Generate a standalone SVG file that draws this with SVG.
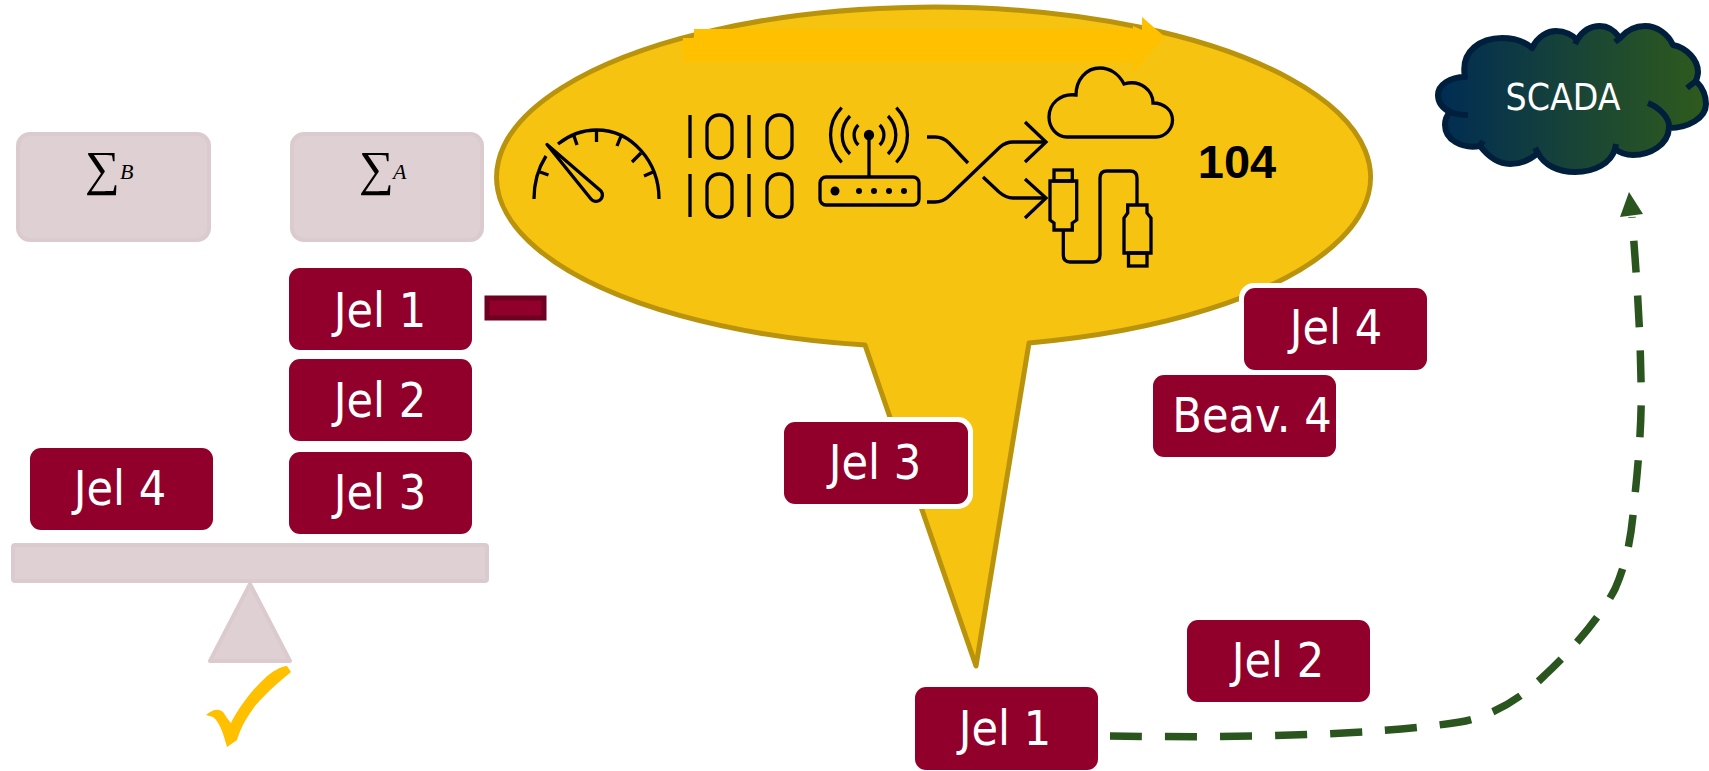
<svg xmlns="http://www.w3.org/2000/svg" width="1709" height="771" viewBox="0 0 1709 771">
<defs>
<linearGradient id="scadaGrad" x1="0" y1="0" x2="1" y2="0"><stop offset="0" stop-color="#002C54"/><stop offset="1" stop-color="#2F5B1C"/></linearGradient>
</defs>
<style>
.light{fill:#DFD0D3;stroke:#DBCBCF;stroke-width:4;stroke-linejoin:round}
.red{fill:#91002B}
.halo{fill:#fff}
.lbl{font-family:"DejaVu Sans Condensed","DejaVu Sans",sans-serif;font-size:48px;fill:#fff;text-anchor:middle}
.ico{fill:none;stroke:#000;stroke-width:3.300}
.sum{font-family:"Liberation Serif",serif;font-size:49px;fill:#000}
.sub{font-family:"Liberation Serif",serif;font-style:italic;font-size:22px;fill:#000}
</style>
<rect width="1709" height="771" fill="#fff"/>

<g id="callout">
<path d="M865 345A437 170 0 1 1 1029 343L976 666Z" fill="#F6C310" stroke="#BA930C" stroke-width="5" stroke-linejoin="round"/>
</g>
<g id="flow-arrow">
<path d="M683 38H694V29H1133V26L1142 30V17L1165 37L1133 72V62H683Z" fill="#FFC000"/>
</g>
<g id="icon-gauge" class="ico">
<path d="M534 199C534 182 539 167 546 156M558 144C568 136 582 130 596.500 130C632 130 659 162 659 199"/>
<path d="M540 172l8.500 3M574 136l3 9M596.500 130v12M621 136l-4 10M641 153l-9 9M653 172l-9 4"/>
<path d="M547 144.500L601 191A5.500 5.500 0 0 1 591 199Z" stroke-linejoin="round"/>
</g>
<g id="icon-binary" class="ico">
<path d="M690 115V158M749 115V158M690 174V217M749 174V217"/>
<rect x="707" y="115" width="25" height="43" rx="12"/><rect x="767" y="115" width="25" height="43" rx="12"/>
<rect x="707" y="174" width="25" height="43" rx="12"/><rect x="767" y="174" width="25" height="43" rx="12"/>
</g>
<g id="icon-router" class="ico">
<rect x="820" y="177" width="99" height="28" rx="6"/>
<path d="M869 135V177"/>
<circle cx="869" cy="135" r="3.500" fill="#000"/>
<path d="M841.700 107.700A39 39 0 0 0 841.700 162.300M850 116A27 27 0 0 0 850 154M858.300 125A14 14 0 0 0 858.300 145M896.300 107.700A39 39 0 0 1 896.300 162.300M888 116A27 27 0 0 1 888 154M879.700 125A14 14 0 0 1 879.700 145"/>
<circle cx="835" cy="191" r="4.500" fill="#000" stroke="none"/>
<circle cx="859" cy="191" r="3" fill="#000" stroke="none"/><circle cx="874" cy="191" r="3" fill="#000" stroke="none"/><circle cx="889" cy="191" r="3" fill="#000" stroke="none"/><circle cx="904" cy="191" r="3" fill="#000" stroke="none"/>
</g>
<g id="icon-split" class="ico">
<path d="M927 137H935Q943 137 949 143L968 163"/>
<path d="M927 202H935Q943 202 949 196L1000 147Q1006 142 1013 142H1046"/>
<path d="M983 177L999 192Q1006 198 1013 198H1046"/>
<path d="M1025 122L1046 142L1025 162M1025 179L1046 198L1025 218"/>
</g>
<g id="icon-cloud" class="ico">
<path d="M1067 137H1156C1165 137 1172.500 129 1172.500 120C1172.500 111 1165 103 1153 103C1153 91 1141 79 1124 84C1119 74 1110 68 1100 68C1086 68 1076 80 1076 95C1060 93 1049 104 1049 117C1049 128 1057 137 1067 137Z"/>
</g>
<g id="icon-usb" class="ico">
<rect x="1054" y="170" width="18.300" height="11"/>
<path d="M1050 181H1076.700V220L1072.300 223V230H1054V223L1050 220Z"/>
<path d="M1063.300 230V255Q1063.300 262 1070 262H1093Q1100 262 1100 255V178Q1100 171 1107 171H1130Q1137 171 1137 178V205"/>
<path d="M1127.700 205H1147V213L1151 218V253H1124V218L1127.700 213Z"/>
<rect x="1128.500" y="253" width="18.500" height="13"/>
</g>
<g id="label-104"><text x="1237" y="178" font-family="Liberation Sans, sans-serif" font-weight="700" font-size="47" text-anchor="middle" fill="#000">104</text></g>

<g id="sum-b"><rect class="light" x="18" y="134" width="191" height="106" rx="12"/>
<text class="sum" x="85" y="185">∑</text><text class="sub" x="120" y="179">B</text></g>
<g id="sum-a"><rect class="light" x="292" y="134" width="190" height="106" rx="12"/>
<text class="sum" x="359" y="185">∑</text><text class="sub" x="393" y="179">A</text></g>

<g id="jel1-a"><rect class="red" x="289" y="268" width="183" height="82" rx="11"/><text class="lbl" x="380" y="327">Jel 1</text></g>
<g id="minus"><rect x="487" y="298" width="57" height="20" fill="#91002B" stroke="#6E0021" stroke-width="5"/></g>
<g id="jel2-a"><rect class="red" x="289" y="359" width="183" height="82" rx="11"/><text class="lbl" x="380" y="417">Jel 2</text></g>
<g id="jel3-a"><rect class="red" x="289" y="452" width="183" height="82" rx="11"/><text class="lbl" x="380" y="509">Jel 3</text></g>
<g id="jel4-a"><rect class="red" x="30" y="448" width="183" height="82" rx="11"/><text class="lbl" x="120" y="505">Jel 4</text></g>

<g id="beam"><rect class="light" x="13" y="545" width="474" height="36" rx="2"/></g>
<g id="fulcrum"><path class="light" d="M250 584L210 661H290Z"/></g>
<g id="check"><path d="M206 715C212 710 218 708 223 712C226 716 228 720 231 723C236 712 250 692 263 680C272 671 282 666 287 666L291 672C280 681 268 691 255 706C248 716 242 724 237 740L227 747C224 736 220 722 213 717Z" fill="#FFC000"/></g>

<g id="jel3-b"><rect class="halo" x="779" y="417" width="194" height="92" rx="15"/><rect class="red" x="784" y="422" width="184" height="82" rx="11"/><text class="lbl" x="875" y="479">Jel 3</text></g>
<g id="jel4-b"><rect class="halo" x="1239" y="283" width="193" height="92" rx="15"/><rect class="red" x="1244" y="288" width="183" height="82" rx="11"/><text class="lbl" x="1336" y="344">Jel 4</text></g>
<g id="beav4"><rect class="red" x="1153" y="375" width="183" height="82" rx="11"/><text class="lbl" x="1252" y="432">Beav. 4</text></g>
<g id="jel2-b"><rect class="red" x="1187" y="620" width="183" height="82" rx="11"/><text class="lbl" x="1278" y="677">Jel 2</text></g>
<g id="jel1-b"><rect class="red" x="915" y="687" width="183" height="83" rx="11"/><text class="lbl" x="1005" y="745">Jel 1</text></g>

<g id="scada">
<path d="M1465 77C1460 50 1482 38 1502 38C1515 38 1525 42 1532 48C1538 36 1548 31 1556 31C1565 31 1573 35 1577 40C1583 30 1590 26 1600 26C1608 26 1615 31 1620 38C1627 30 1635 26 1645 26C1657 26 1668 34 1673 45C1687 48 1698 60 1698 72C1698 75 1697 78 1696 81C1703 88 1706 96 1706 104C1706 118 1688 128 1669 128C1668 145 1650 155 1633 155C1627 155 1620 153 1615 149C1611 163 1595 172 1575 172C1558 172 1544 165 1538 153C1530 160 1520 164 1510 164C1497 164 1487 155 1480 146C1462 149 1445 140 1445 125C1445 120 1447 115 1450 112C1442 108 1438 102 1438 95C1438 85 1450 77 1465 77Z" fill="url(#scadaGrad)" stroke="#001F3D" stroke-width="6" stroke-linejoin="round"/>
<path d="M1450 112Q1458 115 1468 115M1480 146L1483 141M1532 48L1534 45M1577 40L1575 44M1620 38L1615 42M1696 81L1687 88M1648 103C1660 108 1670 118 1669 128M1538 153L1535 148M1615 149L1616 144" fill="none" stroke="#001F3D" stroke-width="6"/>
<text x="1563" y="110" font-family="DejaVu Sans Condensed, DejaVu Sans, sans-serif" font-size="37" fill="#fff" text-anchor="middle">SCADA</text>
</g>

<g id="connectors">
<path d="M1110 736C1230 738 1370 736 1460 722C1500 715 1530 690 1545 675C1570 652 1600 618 1615 589C1628 560 1632 530 1634 504C1640 450 1642 410 1641 380C1640 320 1636 270 1632 217" fill="none" stroke="#2B551E" stroke-width="7.500" stroke-dasharray="32 23"/>
<path d="M1629 192L1620 217L1643 214Z" fill="#2B551E"/>
</g>
</svg>
